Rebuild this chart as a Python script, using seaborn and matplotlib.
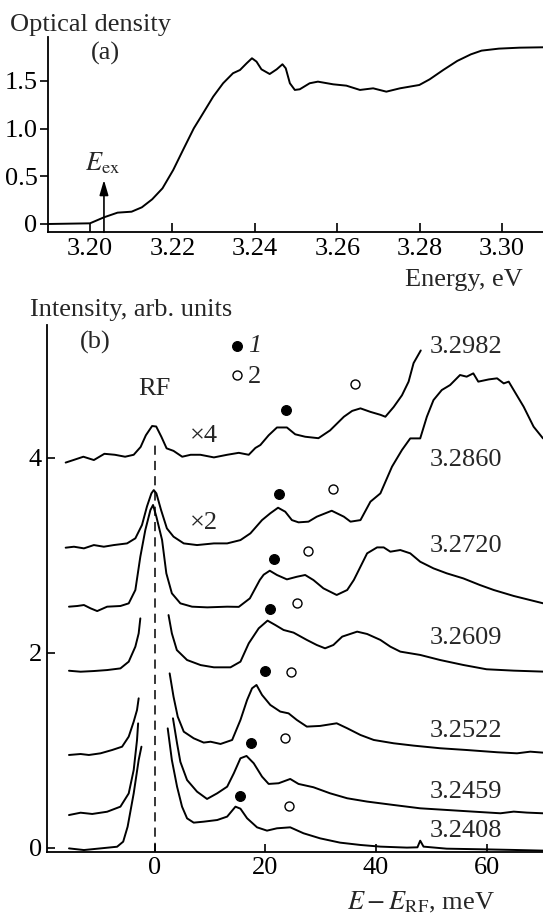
import numpy as np
import pandas as pd
import matplotlib
matplotlib.use("Agg")
import matplotlib.pyplot as plt
import seaborn as sns

# ---------------- data: panel (a) absorption ----------------
abs_energy = [3.1898, 3.2000, 3.2034, 3.2067, 3.2101, 3.2126, 3.2151, 3.2176, 3.2202, 3.2227,
              3.2252, 3.2267, 3.2299, 3.2323, 3.2347, 3.2364, 3.2380, 3.2393, 3.2404, 3.2416,
              3.2436, 3.2453, 3.2467, 3.2475, 3.2485, 3.2497, 3.2509, 3.2533, 3.2553, 3.2590,
              3.2622, 3.2655, 3.2687, 3.2719, 3.2752, 3.2799, 3.2824, 3.2857,
              3.2891, 3.2924, 3.2950, 3.2992, 3.3042, 3.3099]
abs_od = [0.0, 0.007, 0.07, 0.119, 0.129, 0.175, 0.259, 0.374, 0.566, 0.786,
          1.003, 1.108, 1.335, 1.475, 1.58, 1.614, 1.684, 1.737, 1.702, 1.621,
          1.572, 1.621, 1.674, 1.632, 1.475, 1.405, 1.412, 1.475, 1.492, 1.464,
          1.45, 1.405, 1.422, 1.387, 1.422, 1.457, 1.516, 1.614,
          1.709, 1.778, 1.817, 1.838, 1.848, 1.852]
abs_xticks = [3.20, 3.22, 3.24, 3.26, 3.28, 3.30]
abs_yticks = [0, 0.5, 1.0, 1.5]
abs_yticklabels = ["0", "0.5", "1.0", "1.5"]
E_ex = 3.2034

# ---------------- data: panel (b) spectra ----------------
# 3.2982 (x4)
s2982_x = [-16.1, -14.7, -12.9, -11.0, -9.1, -7.2, -5.35, -3.8, -2.55, -1.6, -0.47, 0.27, 1.2, 2.15,
           3.4, 4.97, 6.5, 8.26, 10.7, 13.1, 15.2, 17.0, 18.2, 19.1, 20.6, 22.1, 23.9, 25.4, 27.2,
           29.6, 31.7, 34.2, 35.7, 37.2, 39.0, 40.8, 41.7, 43.2, 44.7, 45.9, 46.8, 48.1]
s2982_y = [3.95, 3.976, 4.01, 3.976, 4.04, 4.03, 4.01, 4.03, 4.11, 4.23, 4.325, 4.32, 4.215, 4.096,
           4.07, 4.01, 4.03, 4.03, 4.003, 4.03, 4.05, 4.03, 4.10, 4.13, 4.23, 4.31, 4.31, 4.24, 4.215,
           4.20, 4.28, 4.42, 4.48, 4.506, 4.47, 4.44, 4.42, 4.52, 4.64, 4.78, 4.97, 5.10]
# 3.2860 (x2)
s2860_x = [-16.1, -14.6, -12.8, -11.0, -9.2, -7.4, -5.0, -3.5, -2.3, -1.4, -0.6, -0.17, 0.3, 1.15,
           2.2, 3.4, 5.25, 7.65, 10.7, 13.1, 15.5, 17.3, 19.4, 20.9, 22.3, 23.6, 24.8, 26.0, 27.8,
           29.3, 32.0, 34.2, 35.4, 37.2, 39.0, 40.8, 42.9, 44.7, 46.2, 48.0, 49.2, 50.4, 51.9, 53.4,
           55.2, 56.4, 57.6, 58.5, 60.4, 61.9, 63.1, 64.0, 64.9, 66.7, 68.5, 70.2]
s2860_y = [3.077, 3.087, 3.07, 3.104, 3.087, 3.104, 3.121, 3.173, 3.31, 3.50, 3.634, 3.668, 3.634, 3.463,
           3.275, 3.19, 3.121, 3.104, 3.121, 3.121, 3.155, 3.224, 3.36, 3.43, 3.487, 3.446, 3.36, 3.337, 3.344,
           3.395, 3.456, 3.395, 3.344, 3.36, 3.549, 3.634, 3.908, 4.079, 4.198, 4.198, 4.42, 4.591, 4.694, 4.745,
           4.848, 4.831, 4.865, 4.78, 4.803, 4.814, 4.762, 4.78, 4.694, 4.523, 4.318, 4.198]
# 3.2720
s2720_x = [-15.5, -14.0, -12.8, -11.6, -10.4, -8.6, -6.2, -4.7, -3.5, -2.6, -1.7, -0.78, -0.3, 0.3, 1.33,
           2.1, 3.1, 4.64, 6.75, 9.5, 13.1, 15.2, 17.2, 19.0, 19.7, 20.8, 22.1, 23.9, 25.7, 27.2,
           28.7, 30.5, 32.9, 34.8, 36.0, 36.6, 38.4, 40.2, 41.4, 42.6, 44.4, 46.2, 48.0, 50.4, 52.8,
           55.8, 58.8, 61.3, 64.9, 70.2]
s2720_y = [2.472, 2.479, 2.489, 2.455, 2.427, 2.472, 2.479, 2.506, 2.643, 2.985, 3.258, 3.463, 3.515, 3.395, 3.156,
           2.814, 2.609, 2.506, 2.472, 2.465, 2.472, 2.47, 2.557, 2.746, 2.80, 2.841, 2.797, 2.752, 2.779, 2.797,
           2.745, 2.66, 2.592, 2.643, 2.746, 2.814, 3.019, 3.08, 3.08, 3.036, 3.053, 3.019, 2.933, 2.865, 2.814,
           2.762, 2.694, 2.643, 2.582, 2.507]
# 3.2609 (RF peak cut off: two segments)
s2609_left_x = [-15.5, -13.4, -11.0, -8.6, -6.2, -4.7, -3.5, -2.9, -2.6]
s2609_left_y = [1.815, 1.805, 1.812, 1.822, 1.839, 1.908, 2.062, 2.198, 2.352]
s2609_right_x = [2.5, 3.1, 4.0, 5.85, 8.3, 10.7, 13.7, 15.5, 17.0, 18.8, 20.4, 21.8, 23.3, 25.1, 27.5,
                 29.3, 30.8, 32.3, 33.9, 36.6, 38.4, 40.8, 42.6, 44.4, 48.0, 51.6, 55.8, 60.0, 64.9, 70.2]
s2609_right_y = [2.386, 2.198, 2.027, 1.925, 1.873, 1.85, 1.85, 1.908, 2.096, 2.25, 2.329, 2.284, 2.233, 2.206, 2.131,
                 2.079, 2.045, 2.079, 2.165, 2.216, 2.192, 2.131, 2.062, 2.011, 1.977, 1.925, 1.874, 1.83, 1.816, 1.806]
# 3.2522
s2522_left_x = [-15.5, -13.4, -11.9, -9.8, -7.7, -5.9, -4.7, -3.8, -3.2, -2.9]
s2522_left_y = [0.951, 0.961, 0.951, 0.968, 1.002, 1.036, 1.139, 1.293, 1.412, 1.532]
s2522_right_x = [2.7, 3.4, 4.16, 5.25, 7.05, 8.86, 10.1, 11.9, 14.0, 15.5, 16.7, 17.6, 18.4, 19.4, 20.9,
                 22.7, 24.2, 25.7, 27.5, 29.9, 32.9, 34.8, 37.2, 39.6, 43.2, 46.8, 51.6, 56.4, 61.9, 65.5,
                 67.9, 70.2]
s2522_right_y = [1.788, 1.549, 1.344, 1.19, 1.122, 1.078, 1.087, 1.064, 1.105, 1.31, 1.515, 1.635, 1.669, 1.567, 1.464,
                 1.396, 1.378, 1.31, 1.242, 1.249, 1.276, 1.225, 1.156, 1.105, 1.071, 1.047, 1.02, 1.002, 0.979, 0.968,
                 0.985, 0.975]
# 3.2459
s2459_left_x = [-15.5, -13.4, -11.3, -8.6, -6.2, -4.7, -3.8, -3.2, -3.0]
s2459_left_y = [0.335, 0.359, 0.346, 0.369, 0.421, 0.557, 0.797, 1.104, 1.275]
s2459_right_x = [3.3, 4.04, 4.64, 5.85, 7.65, 9.46, 11.3, 13.1, 14.3, 15.5, 16.6, 17.9, 19.4, 20.6, 22.4,
                 24.5, 26.0, 28.7, 31.7, 34.8, 38.4, 43.2, 48.0, 52.8, 57.6, 62.5, 64.9, 67.3, 70.2]
s2459_right_y = [1.327, 1.07, 0.88, 0.694, 0.575, 0.50, 0.558, 0.626, 0.763, 0.917, 0.941, 0.866, 0.729, 0.654, 0.661,
                 0.705, 0.654, 0.62, 0.558, 0.507, 0.473, 0.438, 0.404, 0.387, 0.37, 0.353, 0.37, 0.36, 0.353]
# 3.2408
s2408_left_x = [-15.5, -12.8, -9.8, -6.8, -5.7, -4.9, -3.8, -2.9, -2.4]
s2408_left_y = [-0.007, -0.024, -0.007, 0.01, 0.062, 0.215, 0.557, 0.899, 1.036]
s2408_right_x = [2.35, 3.1, 4.04, 4.94, 5.85, 7.05, 8.86, 11.3, 13.1, 14.6, 15.5, 16.7, 18.5, 20.3, 22.1,
                 24.5, 26.9, 29.9, 33.5, 37.2, 40.8, 45.6, 47.5, 48.0, 48.6, 52.8, 58.8, 64.9, 70.2]
s2408_right_y = [1.224, 0.899, 0.626, 0.421, 0.301, 0.257, 0.267, 0.284, 0.319, 0.421, 0.40, 0.302, 0.209, 0.175, 0.199,
                 0.209, 0.148, 0.096, 0.052, 0.028, 0.011, 0.001, 0.004, 0.072, 0.011, -0.01, -0.016, -0.023, -0.03]

spectrum_names = ["3.2982", "3.2860", "3.2720", "3.2609", "3.2522", "3.2459", "3.2408"]
spectrum_label_y = [5.071, 3.918, 3.036, 2.086, 1.132, 0.513, 0.113]

peak1_x = [23.8, 22.5, 21.6, 20.8, 20.0, 17.4, 15.5]
peak1_y = [4.49, 3.624, 2.961, 2.449, 1.816, 1.078, 0.534]
peak2_x = [36.3, 32.2, 27.8, 25.7, 24.6, 23.6, 24.3]
peak2_y = [4.76, 3.679, 3.046, 2.513, 1.806, 1.122, 0.432]

spec_xticks = [0, 20, 40, 60]
spec_yticks = [0, 2, 4]
rf_line_top = 4.13

# ---------------- styling ----------------
sns.set_theme(style="ticks")
plt.rcParams["font.family"] = ["Liberation Serif", "DejaVu Serif"]
plt.rcParams["mathtext.fontset"] = "stix"
FS = 19
LW = 1.4

W, H = 543, 917
fig = plt.figure(figsize=(W / 100, H / 100), dpi=100)


def fx(px):
    return px / W


def fy(py):
    return 1 - py / H


# ---------------- panel (a) ----------------
axa = fig.add_axes([fx(48.3), fy(232.3), fx(543) - fx(48.3), fy(36.7) - fy(232.3)])
dfa = pd.DataFrame({"E": abs_energy, "OD": abs_od})
sns.lineplot(data=dfa, x="E", y="OD", ax=axa, color="black", lw=LW, sort=False, estimator=None)
axa.set_xlim(3.1899, 3.3099)
axa.set_ylim(-0.087, 1.963)
axa.set_xticks(abs_xticks)
axa.set_xticklabels([f"{v:.2f}" for v in abs_xticks])
axa.set_yticks(abs_yticks)
axa.set_yticklabels(abs_yticklabels)
axa.tick_params(axis="x", direction="in", length=6.5, width=1.2, pad=4, labelsize=FS, colors="black")
axa.tick_params(axis="y", direction="out", length=5.8, width=1.2, pad=2, labelsize=FS, colors="black")
axa.set_xlabel("")
axa.set_ylabel("")
for s in ["top", "right"]:
    axa.spines[s].set_visible(False)
for s in ["left", "bottom"]:
    axa.spines[s].set_linewidth(1.3)
    axa.spines[s].set_color("black")
axa.patch.set_alpha(0)

axa.annotate("", xy=(E_ex, 0.461), xytext=(E_ex, -0.087),
             arrowprops=dict(arrowstyle="-|>,head_length=0.75,head_width=0.22", color="black", lw=1.2,
                             shrinkA=0, shrinkB=0))
axa.text(3.1989, 0.566, r"$E_{\mathrm{ex}}$", fontsize=FS, ha="left", va="baseline")
axa.text(3.2002, 1.72, "(a)", fontsize=FS, ha="left", va="baseline")

fig.text(fx(10), fy(31), "Optical density", fontsize=FS, ha="left", va="baseline")
fig.text(fx(523), fy(286), "Energy, eV", fontsize=FS, ha="right", va="baseline")

# ---------------- panel (b) ----------------
axb = fig.add_axes([fx(47.3), fy(851.7), fx(543) - fx(47.3), fy(325) - fy(851.7)])

segments = [
    ("3.2982", 0, s2982_x, s2982_y),
    ("3.2860", 0, s2860_x, s2860_y),
    ("3.2720", 0, s2720_x, s2720_y),
    ("3.2609", 0, s2609_left_x, s2609_left_y),
    ("3.2609", 1, s2609_right_x, s2609_right_y),
    ("3.2522", 0, s2522_left_x, s2522_left_y),
    ("3.2522", 1, s2522_right_x, s2522_right_y),
    ("3.2459", 0, s2459_left_x, s2459_left_y),
    ("3.2459", 1, s2459_right_x, s2459_right_y),
    ("3.2408", 0, s2408_left_x, s2408_left_y),
    ("3.2408", 1, s2408_right_x, s2408_right_y),
]
rows = []
for name, seg, xs, ys in segments:
    for order, (xv, yv) in enumerate(zip(xs, ys)):
        rows.append({"x": xv, "y": yv, "unit": f"{name}-{seg}", "order": order})
dfb = pd.DataFrame(rows)
sns.lineplot(data=dfb, x="x", y="y", units="unit", estimator=None, sort=False,
             color="black", lw=LW, ax=axb)

axb.plot([0, 0], [-0.04, rf_line_top], color="black", lw=1.1, ls=(0, (6, 4)))

sns.scatterplot(x=peak1_x, y=peak1_y, ax=axb, color="black", s=50, edgecolor="black", linewidth=0.8)
sns.scatterplot(x=peak2_x, y=peak2_y, ax=axb, color="white", s=42, edgecolor="black", linewidth=1.0)
sns.scatterplot(x=[14.8], y=[5.15], ax=axb, color="black", s=50, edgecolor="black", linewidth=0.8)
sns.scatterplot(x=[14.8], y=[4.845], ax=axb, color="white", s=42, edgecolor="black", linewidth=1.0)
axb.text(16.9, 5.15, "1", fontsize=FS, style="italic", ha="left", va="center")
axb.text(16.9, 4.83, "2", fontsize=FS, ha="left", va="center")

axb.text(0, 4.643, "RF", fontsize=FS, ha="center", va="baseline")
axb.text(6.4, 4.164, "\u00d74", fontsize=FS, ha="left", va="baseline")
axb.text(6.4, 3.266, "\u00d72", fontsize=FS, ha="left", va="baseline")
axb.text(-13.45, 5.115, "(b)", fontsize=FS, ha="left", va="baseline")
for name, yv in zip(spectrum_names, spectrum_label_y):
    axb.text(49.8, yv, name, fontsize=FS, ha="left", va="baseline")

axb.set_xlim(-19.42, 70.2)
axb.set_ylim(-0.041, 5.361)
axb.set_xticks(spec_xticks)
axb.set_yticks(spec_yticks)
axb.tick_params(axis="x", direction="in", length=6, width=1.2, pad=4, labelsize=FS, colors="black")
axb.tick_params(axis="y", direction="in", length=5.8, width=1.2, pad=4, labelsize=FS, colors="black")
axb.set_xlabel("")
axb.set_ylabel("")
for s in ["top", "right"]:
    axb.spines[s].set_visible(False)
for s in ["left", "bottom"]:
    axb.spines[s].set_linewidth(1.3)
    axb.spines[s].set_color("black")
axb.patch.set_alpha(0)

fig.text(fx(30.5), fy(316), "Intensity, arb. units", fontsize=FS, ha="left", va="baseline")
fig.text(fx(495), fy(909), r"$E - E_{\mathrm{RF}}$, meV", fontsize=FS, ha="right", va="baseline")

fig.savefig("out.png", dpi=100, facecolor="white")
